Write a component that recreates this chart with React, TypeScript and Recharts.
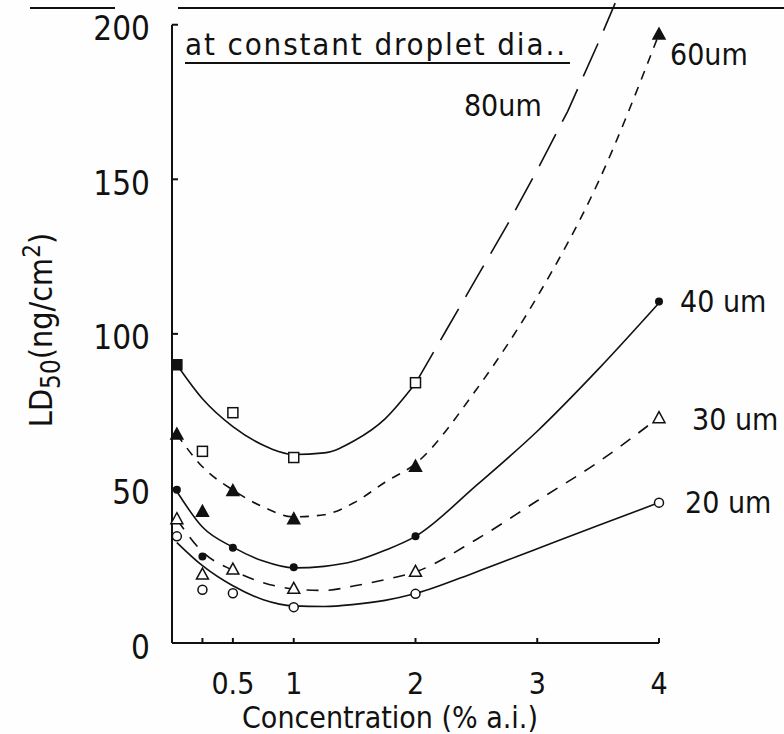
import { ComposedChart, Line, Scatter, XAxis, YAxis, ReferenceLine, ReferenceDot } from 'recharts';

const FONT = "'Liberation Sans Narrow', 'DejaVu Sans Condensed', 'Liberation Sans', sans-serif";
const INK = '#111';

// measured points (x = concentration, % a.i.)
const pointX = [0.04, 0.25, 0.5, 1, 2, 4];
const pts80 = [90, 62, 74.5, 60, 84.2];
const pts60 = [67.6, 42.6, 49.3, 40.2, 57.2, 197];
const pts40 = [49.6, 28, 30.8, 24.5, 34.5, 110.5];
const pts30 = [40.2, 22.3, 23.9, 17.7, 23.2, 72.9];
const pts20 = [34.5, 17.2, 16.1, 11.6, 15.9, 45.4];

// fitted curves
const curveX = [0.04, 0.25, 0.5, 0.75, 1, 1.25, 1.5, 1.75, 2, 2.5, 3, 3.5, 4];
const fit80 = [90, 79, 70, 64, 61, 61.5, 65.5, 72.5, 84];
const ext80X = [2, 2.25, 2.5, 2.75, 3, 3.25, 3.5, 3.64];
const ext80 = [84, 101, 118, 135, 153, 172, 194, 207];
const fit60 = [67.5, 57, 49.5, 44, 40.8, 41.5, 45.5, 52, 58, 82, 112, 149, 197];
const fit40 = [49, 37.5, 31, 26.5, 24.3, 24.8, 26.5, 30, 34.5, 51, 68.5, 88.5, 110];
const fit30 = [40, 29.5, 23.5, 19.5, 17.5, 17, 18.5, 20.5, 23, 33.5, 46, 58.5, 73];
const fit20 = [32.5, 25, 18.5, 14, 12, 11.8, 12.5, 13.8, 16, 23, 30.5, 38, 45.4];

const yTicks = [0, 50, 100, 150, 200];
const xTicks = [0, 0.25, 0.5, 1, 2, 3, 4];
const xTickLabels = ['', '', '0.5', '1', '2', '3', '4'];

const toRows = (xs: number[], ys: number[]) => ys.map((y, i) => ({ x: xs[i], y }));

const YTick = ({ x, y, payload }: any) => (
  <g>
    <line x1={x} x2={x + 6} y1={y} y2={y} stroke={INK} strokeWidth={2} />
    <text x={x - 22} y={y + 4} textAnchor="end" dominantBaseline="central" fontFamily={FONT} fontSize={33} fill={INK}>
      {payload.value}
    </text>
  </g>
);

const XTick = ({ x, y, index }: any) => (
  <g>
    <line x1={x} x2={x} y1={y} y2={y - 5} stroke={INK} strokeWidth={2} />
    <text x={x} y={y + 40} textAnchor="middle" dominantBaseline="central" fontFamily={FONT} fontSize={30} fill={INK}>
      {xTickLabels[index] ?? ''}
    </text>
  </g>
);

const square = (props: any) => {
  const { cx, cy, payload } = props;
  const filled = payload && payload.x === pointX[0];
  return <rect x={cx - 5} y={cy - 5} width={10} height={10} fill={filled ? INK : '#fff'} stroke={INK} strokeWidth={1.5} />;
};
const triangle = (fill: string) => (props: any) => {
  const { cx, cy } = props;
  return <path d={`M${cx},${cy - 6} L${cx + 6},${cy + 5} L${cx - 6},${cy + 5} Z`} fill={fill} stroke={INK} strokeWidth={1.5} />;
};
const dot = (props: any) => <circle cx={props.cx} cy={props.cy} r={4} fill={INK} />;
const ring = (props: any) => <circle cx={props.cx} cy={props.cy} r={4.5} fill="#fff" stroke={INK} strokeWidth={1.5} />;

const tag = (text: string, dx: number, dy: number, anchor = 'start') => (props: any) => {
  const vb = props.viewBox || {};
  return (
    <text x={vb.x + dx} y={vb.y + dy} textAnchor={anchor} dominantBaseline="central" fontFamily={FONT} fontSize={30} fill={INK}>
      {text}
    </text>
  );
};

const lineProps = { type: 'monotone' as const, dataKey: 'y', stroke: INK, strokeWidth: 1.6, dot: false, activeDot: false, isAnimationActive: false };

export default function App() {
  return (
    <div style={{ position: 'absolute', left: 0, top: 0, width: 784, height: 734, background: '#fefefe', overflow: 'hidden' }}>
      <ComposedChart width={784} height={734} margin={{ top: 0, right: 125, bottom: 0, left: 0 }}>
        <XAxis
          type="number"
          dataKey="x"
          domain={[0, 4]}
          ticks={xTicks}
          interval={0}
          height={91}
          tickSize={0}
          tickMargin={0}
          tickLine={false}
          axisLine={{ stroke: INK, strokeWidth: 2 }}
          tick={<XTick />}
        />
        <YAxis
          type="number"
          dataKey="y"
          domain={[0, 208]}
          ticks={yTicks}
          interval={0}
          width={172}
          tickSize={0}
          tickMargin={0}
          tickLine={false}
          axisLine={false}
          tick={<YTick />}
        />
        <ReferenceLine segment={[{ x: 0, y: 0 }, { x: 0, y: 200 }]} stroke={INK} strokeWidth={2} ifOverflow="visible" />

        <Line {...lineProps} data={toRows(curveX, fit80)} />
        <Line {...lineProps} data={toRows(ext80X, ext80)} type="linear" strokeDasharray="36 14" />
        <Line {...lineProps} data={toRows(curveX, fit60)} strokeDasharray="9 8" />
        <Line {...lineProps} data={toRows(curveX, fit40)} />
        <Line {...lineProps} data={toRows(curveX, fit30)} strokeDasharray="12 10" />
        <Line {...lineProps} data={toRows(curveX, fit20)} />

        <Scatter data={toRows(pointX, pts80)} dataKey="y" shape={square} isAnimationActive={false} />
        <Scatter data={toRows(pointX, pts60)} dataKey="y" shape={triangle(INK)} isAnimationActive={false} />
        <Scatter data={toRows(pointX, pts40)} dataKey="y" shape={dot} isAnimationActive={false} />
        <Scatter data={toRows(pointX, pts30)} dataKey="y" shape={triangle('#fff')} isAnimationActive={false} />
        <Scatter data={toRows(pointX, pts20)} dataKey="y" shape={ring} isAnimationActive={false} />

        <ReferenceDot x={3.25} y={172} r={0} fill="none" stroke="none" label={tag('80um', -26, -6, 'end')} />
        <ReferenceDot x={4} y={197} r={0} fill="none" stroke="none" label={tag('60um', 11, 20)} />
        <ReferenceDot x={4} y={110.5} r={0} fill="none" stroke="none" label={tag('40 um', 21, 0)} />
        <ReferenceDot x={4} y={72.9} r={0} fill="none" stroke="none" label={tag('30 um', 33, 2)} />
        <ReferenceDot x={4} y={45.4} r={0} fill="none" stroke="none" label={tag('20 um', 26, 0)} />
      </ComposedChart>

      <svg width={784} height={734} style={{ position: 'absolute', left: 0, top: 0, pointerEvents: 'none' }}>
        <line x1={30} x2={115} y1={8} y2={8} stroke={INK} strokeWidth={2} />
        <line x1={178} x2={784} y1={8} y2={8} stroke={INK} strokeWidth={2} />
        <text x={185} y={55} fontFamily={FONT} fontSize={31} fill={INK} textLength={380} lengthAdjust="spacing">
          at constant droplet dia..
        </text>
        <line x1={185} x2={570} y1={63} y2={63} stroke={INK} strokeWidth={2} />
        <text transform="translate(52,330) rotate(-90)" textAnchor="middle" fontFamily={FONT} fontSize={32} fill={INK}>
          LD<tspan dy={8} fontSize={26}>50</tspan>
          <tspan dy={-8}>(ng/cm</tspan>
          <tspan dy={-12} fontSize={24}>2</tspan>
          <tspan dy={12}>)</tspan>
        </text>
        <text x={390} y={717} textAnchor="middle" dominantBaseline="central" fontFamily={FONT} fontSize={30} fill={INK}>
          Concentration (% a.i.)
        </text>
      </svg>
    </div>
  );
}
